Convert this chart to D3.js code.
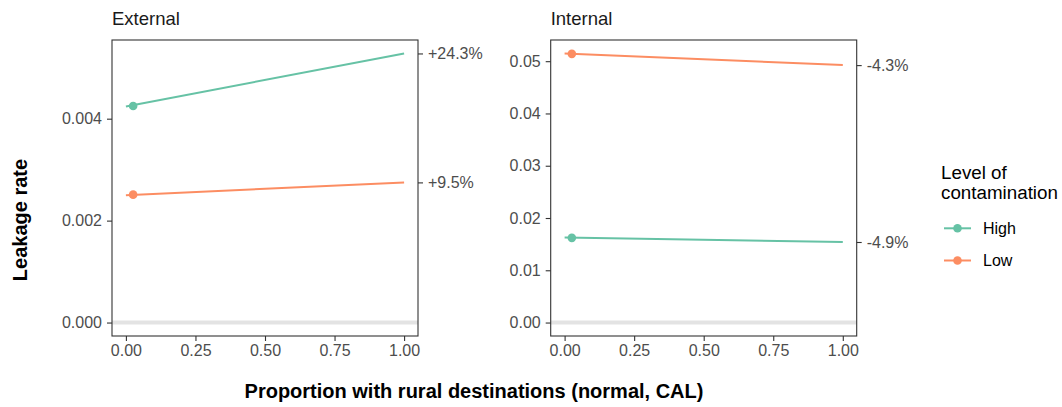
<!DOCTYPE html>
<html>
<head>
<meta charset="utf-8">
<script src="https://cdn.jsdelivr.net/npm/d3@7"></script>
<style>
  body { margin: 0; background: #fff; }
  svg { display: block; font-family: "Liberation Sans", Arial, Helvetica, sans-serif; }
</style>
</head>
<body>
<svg id="chart" width="1062" height="407"></svg>
<script>
// Leakage rate by contamination level, fitted against the proportion of rural destinations
const facets = ["External", "Internal"];
const levels = ["High", "Low"];
const levelColors = ["#66c2a5", "#fc8d62"];
const xTicks = [0, 0.25, 0.5, 0.75, 1];
const yTicksExternal = [0, 0.002, 0.004];
const yTicksInternal = [0, 0.01, 0.02, 0.03, 0.04, 0.05];
const observedX = 0.026;

// Values per level [High, Low]: fitted line at x = 0 and x = 1, and the observed point
const externalStart = [0.00424, 0.00250];
const externalEnd = [0.00528, 0.00275];
const externalPoint = [0.00425, 0.00251];
const externalChange = ["+24.3%", "+9.5%"];

const internalStart = [0.01625, 0.05148];
const internalEnd = [0.01541, 0.04925];
const internalPoint = [0.01620, 0.05140];
const internalChange = ["-4.9%", "-4.3%"];

const panels = [
  { name: facets[0], start: externalStart, end: externalEnd, point: externalPoint, change: externalChange, ticks: yTicksExternal, fmt: d3.format(".3f"), left: 112 },
  { name: facets[1], start: internalStart, end: internalEnd, point: internalPoint, change: internalChange, ticks: yTicksInternal, fmt: d3.format(".2f"), left: 550.7 }
];

const svg = d3.select("#chart");
const panelTop = 40, panelW = 306, panelH = 296;
const tickLen = 5;
const tickColor = "#333333";
const labelColor = "#4d4d4d";

const x = d3.scaleLinear().domain([-0.05, 1.05]).range([0, panelW]);

function styleAxis(sel) {
  sel.select(".domain").remove();
  sel.selectAll(".tick line").attr("stroke", tickColor).attr("stroke-width", 1.1);
  sel.selectAll(".tick text").attr("fill", labelColor).attr("font-size", 16)
    .attr("font-family", "Liberation Sans, Arial, sans-serif");
}

panels.forEach(p => {
  const g = svg.append("g").attr("transform", `translate(${p.left},${panelTop})`);

  const vals = [0, ...p.start, ...p.end, ...p.point];
  const lo = d3.min(vals), hi = d3.max(vals), pad = (hi - lo) * 0.05;
  const y = d3.scaleLinear().domain([lo - pad, hi + pad]).range([panelH, 0]);

  // zero reference line
  g.append("line")
    .attr("x1", 0).attr("x2", panelW)
    .attr("y1", y(0)).attr("y2", y(0))
    .attr("stroke", "#e3e3e3").attr("stroke-width", 4);

  // fitted lines and observed points
  levels.forEach((lv, i) => {
    g.append("line")
      .attr("x1", x(0)).attr("y1", y(p.start[i]))
      .attr("x2", x(1)).attr("y2", y(p.end[i]))
      .attr("stroke", levelColors[i]).attr("stroke-width", 2);
    g.append("circle")
      .attr("cx", x(observedX)).attr("cy", y(p.point[i]))
      .attr("r", 4.3).attr("fill", levelColors[i]);
  });

  // panel border
  g.append("rect")
    .attr("x", 0).attr("y", 0).attr("width", panelW).attr("height", panelH)
    .attr("fill", "none").attr("stroke", "#333333").attr("stroke-width", 1.1);

  // left axis
  g.append("g")
    .call(d3.axisLeft(y).tickValues(p.ticks).tickFormat(p.fmt).tickSize(tickLen).tickPadding(5))
    .call(styleAxis);

  // bottom axis
  g.append("g").attr("transform", `translate(0,${panelH})`)
    .call(d3.axisBottom(x).tickValues(xTicks).tickFormat(d3.format(".2f")).tickSize(tickLen).tickPadding(4))
    .call(styleAxis);

  // right axis: change between the ends of each fitted line
  g.append("g").attr("transform", `translate(${panelW},0)`)
    .call(d3.axisRight(y).tickValues(p.end).tickFormat((d, i) => p.change[i]).tickSize(tickLen).tickPadding(5))
    .call(styleAxis);

  // facet title
  svg.append("text")
    .attr("x", p.left).attr("y", 25)
    .attr("font-size", 18.5).attr("fill", "#1a1a1a")
    .text(p.name);
});

// axis titles
svg.append("text")
  .attr("x", 474).attr("y", 398)
  .attr("text-anchor", "middle")
  .attr("font-size", 20).attr("font-weight", "bold").attr("fill", "#000")
  .text("Proportion with rural destinations (normal, CAL)");

svg.append("text")
  .attr("transform", "translate(27,220) rotate(-90)")
  .attr("text-anchor", "middle")
  .attr("font-size", 20).attr("font-weight", "bold").attr("fill", "#000")
  .text("Leakage rate");

// legend
const legend = svg.append("g");
legend.append("text").attr("x", 941).attr("y", 179).attr("font-size", 18.8).attr("fill", "#000").text("Level of");
legend.append("text").attr("x", 941).attr("y", 199).attr("font-size", 18.8).attr("fill", "#000").text("contamination");
const keyY = d3.scalePoint().domain(levels).range([228.3, 260.5]);
levels.forEach((lv, i) => {
  const cy = keyY(lv);
  legend.append("line").attr("x1", 944).attr("x2", 971).attr("y1", cy).attr("y2", cy)
    .attr("stroke", levelColors[i]).attr("stroke-width", 2);
  legend.append("circle").attr("cx", 957.5).attr("cy", cy).attr("r", 4.3).attr("fill", levelColors[i]);
  legend.append("text").attr("x", 983).attr("y", cy).attr("dy", "0.35em")
    .attr("font-size", 16).attr("fill", "#000").text(lv);
});
</script>
</body>
</html>
